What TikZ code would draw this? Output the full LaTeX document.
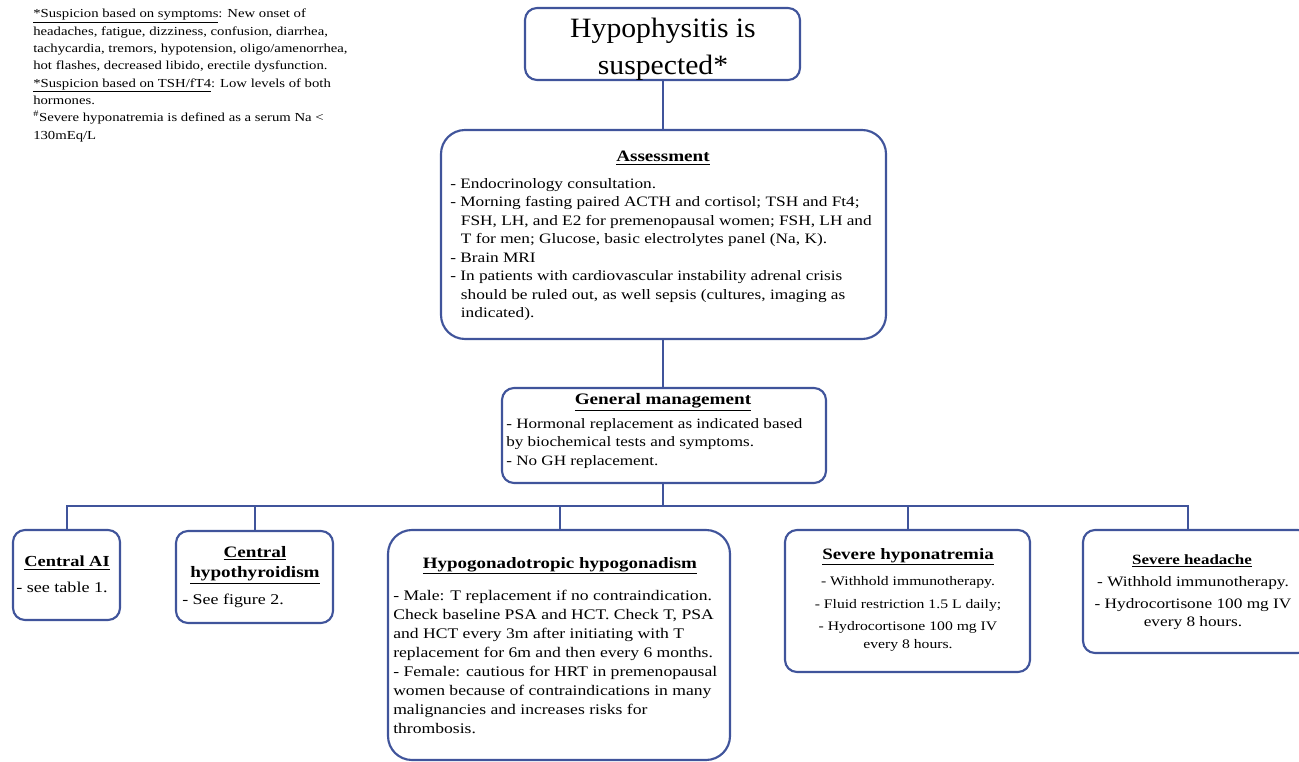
\documentclass[tikz,border=0pt]{standalone}
\usepackage{fontspec}
\setmainfont{Liberation Serif}[FakeStretch=1.2]
\newfontfamily\topfont{Liberation Serif}[FakeStretch=1.06]
\definecolor{lineblue}{RGB}{64,84,155}
\newcommand{\fs}[2]{\fontsize{#1}{#2}\selectfont}
\newcommand{\ttl}[1]{\textbf{\underline{#1}}}
\begin{document}
\begin{tikzpicture}[x=0.75pt,y=-0.75pt,
  box/.style={draw=lineblue,line width=1.6pt,rounded corners=9pt,fill=white},
  bigbox/.style={draw=lineblue,line width=1.6pt,rounded corners=18pt,fill=white},
  conn/.style={draw=lineblue,line width=1.6pt},
  txt/.style={inner sep=0pt},
  note/.style={inner sep=0pt,font=\fs{9.2pt}{13pt},align=left,anchor=north west}]
\useasboundingbox (0,0) rectangle (1299,762);
% boxes
\draw[box] (525,8) rectangle (800,80);
\node[inner sep=0pt,font=\topfont\fs{21pt}{27.7pt},align=center] (top) at (663,49) {Hypophysitis is\\suspected*};
\coordinate (topb) at (663,80);

\draw[bigbox] (441,130) rectangle (886,339);
\coordinate (asst) at (663,130);
\coordinate (assb) at (663,339);
\node[txt,font=\fs{11.95pt}{14pt}] (asshead) at (663,158) {\ttl{Assessment}};
\node[txt,align=left,anchor=north west,font=\fs{10.8pt}{13.9pt}] (ass) at (450,178) {%
- Endocrinology consultation.\\
- Morning fasting paired ACTH and cortisol; TSH and Ft4;\\
\hspace*{8pt}FSH, LH, and E2 for premenopausal women; FSH, LH and\\
\hspace*{8pt}T for men; Glucose, basic electrolytes panel (Na, K).\\
- Brain MRI\\
- In patients with cardiovascular instability adrenal crisis\\
\hspace*{8pt}should be ruled out, as well sepsis (cultures, imaging as\\
\hspace*{8pt}indicated).};

\draw[box] (502,388) rectangle (826,483);
\coordinate (gmt) at (663,388);
\coordinate (gmb) at (663,483);
\node[txt,font=\fs{12pt}{14pt}] (gmhead) at (663,402) {\ttl{General management}};
\node[txt,align=left,anchor=north west,font=\fs{10.7pt}{14pt}] (gm) at (506,418) {%
- Hormonal replacement as indicated based\\
by biochemical tests and symptoms.\\
- No GH replacement.};

\draw[box] (13,530) rectangle (120,620);
\node[txt,font=\fs{11.5pt}{14pt}] (aihead) at (67,563) {\ttl{Central AI}};
\node[txt,anchor=north west,font=\fs{11.3pt}{14pt}] (ai) at (16,582) {- see table 1.};

\draw[box] (176,531) rectangle (333,623);
\node[txt,align=center,font=\fs{11.95pt}{15pt}] (hthead) at (255,565) {\ttl{Central}\\\ttl{hypothyroidism}};
\node[txt,anchor=north west,font=\fs{11.2pt}{14pt}] (ht) at (182,594) {- See figure 2.};

\draw[bigbox] (388,530) rectangle (730,760);
\node[txt,font=\fs{11.85pt}{14pt}] (hhhead) at (560,566) {\ttl{Hypogonadotropic hypogonadism}};
\node[txt,align=left,anchor=north west,font=\fs{11pt}{14.2pt}] (hh) at (393,590) {%
- Male: T replacement if no contraindication.\\
Check baseline PSA and HCT. Check T, PSA\\
and HCT every 3m after initiating with T\\
replacement for 6m and then every 6 months.\\
- Female: cautious for HRT in premenopausal\\
women because of contraindications in many\\
malignancies and increases risks for\\
thrombosis.};

\draw[box] (785,530) rectangle (1030,672);
\node[txt,font=\fs{11.85pt}{14pt}] (snhead) at (908,557) {\ttl{Severe hyponatremia}};
\node[txt,align=center,font=\fs{9.8pt}{13.5pt}] (sn) at (908,614) {%
- Withhold immunotherapy.\\[3.5pt]
- Fluid restriction 1.5 L daily;\\[3.5pt]
- Hydrocortisone 100 mg IV\\
every 8 hours.};

\draw[box] (1083,530) rectangle (1310,653);
\node[txt,font=\fs{10.6pt}{14pt}] (shhead) at (1192,561) {\ttl{Severe headache}};
\node[txt,align=center,font=\fs{10.8pt}{13.5pt}] (sh) at (1193,603) {%
- Withhold immunotherapy.\\[2.5pt]
- Hydrocortisone 100 mg IV\\
every 8 hours.};

% note
\node[note] (nt) at (33,9) {%
\underline{*Suspicion based on symptoms}: New onset of\\
headaches, fatigue, dizziness, confusion, diarrhea,\\
tachycardia, tremors, hypotension, oligo/amenorrhea,\\
hot flashes, decreased libido, erectile dysfunction.\\
\underline{*Suspicion based on TSH/fT4}: Low levels of both\\
hormones.\\
\textsuperscript{\#}Severe hyponatremia is defined as a serum Na <\\
130mEq/L};

% connectors
\coordinate (bus) at (663,506);
\coordinate (aiT) at (67,530);
\coordinate (htT) at (255,531);
\coordinate (hhT) at (560,530);
\coordinate (snT) at (908,530);
\coordinate (shT) at (1188,530);
\draw[conn] (topb) -- (asst);
\draw[conn] (assb) -- (gmt);
\draw[conn] (gmb) -- (bus);
\draw[conn] (aiT) |- (bus) -| (shT);
\draw[conn] (htT) -- (htT |- bus);
\draw[conn] (hhT) -- (hhT |- bus);
\draw[conn] (snT) -- (snT |- bus);
\end{tikzpicture}
\end{document}
